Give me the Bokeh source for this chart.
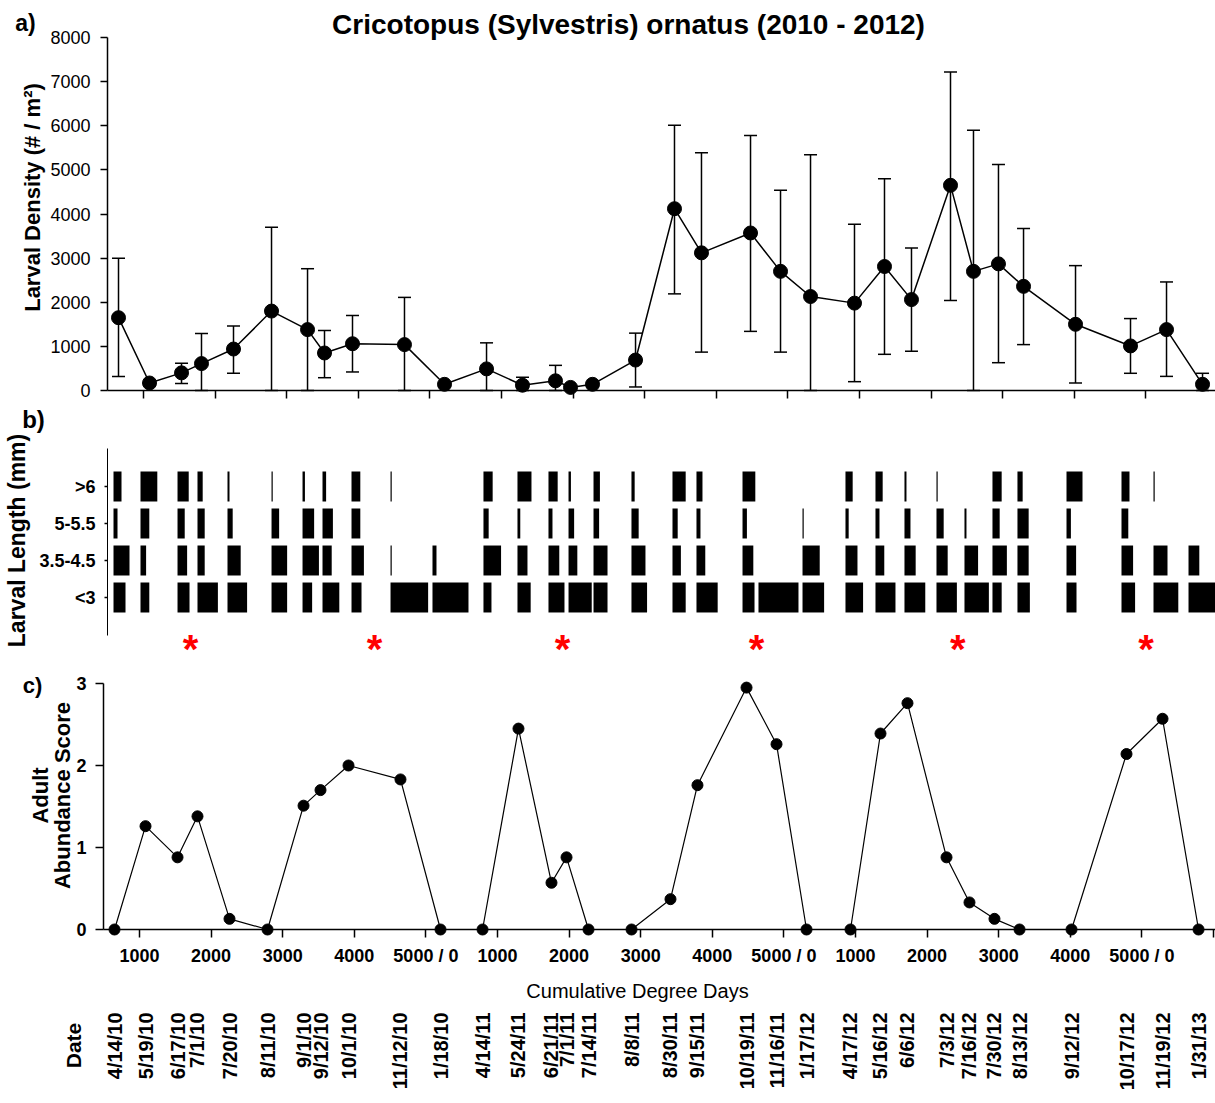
import math
from bokeh.plotting import figure
from bokeh.layouts import column
from bokeh.models import ColumnDataSource, Range1d, FixedTicker, Whisker, TeeHead
from bokeh.core.properties import value
from bokeh.embed import file_html
from bokeh.resources import INLINE

# ---------------- data ----------------
title_text = "Cricotopus (Sylvestris) ornatus (2010 - 2012)"

sample_dates = ["4/14/10", "5/19/10", "6/17/10", "7/1/10", "7/20/10", "8/11/10", "9/1/10",
                "9/12/10", "10/1/10", "11/12/10", "1/18/10", "4/14/11", "5/24/11", "6/21/11",
                "7/1/11", "7/14/11", "8/8/11", "8/30/11", "9/15/11", "10/19/11", "11/16/11",
                "1/17/12", "4/17/12", "5/16/12", "6/6/12", "7/3/12", "7/16/12", "7/30/12",
                "8/13/12", "9/12/12", "10/17/12", "11/19/12", "1/31/13"]

# position on the running cumulative-degree-day axis (5000 per season)
sample_cdd = [651, 1084, 1531, 1810, 2257, 2788, 3291, 3528, 3919, 4645, 5204,
              5791, 6293, 6754, 6964, 7271, 7872, 8416, 8793, 9478, 9897, 10316,
              10930, 11349, 11726, 12271, 12592, 12941, 13291, 14017, 14785, 15288, 15791]

larval_density = [1650, 170, 400, 610, 940, 1800, 1380, 850, 1060, 1040, 140,
                  490, 120, 220, 70, 140, 690, 4120, 3120, 3570, 2700, 2130,
                  1980, 2810, 2060, 4650, 2700, 2870, 2360, 1500, 1010, 1380, 140]
density_upper = [3000, 170, 620, 1290, 1460, 3700, 2760, 1360, 1700, 2110, 140,
                 1080, 300, 570, 70, 140, 1300, 6010, 5390, 5780, 4540, 5340,
                 3770, 4800, 3230, 7220, 5900, 5120, 3670, 2830, 1630, 2460, 390]
density_lower = [320, 170, 160, 0, 390, 0, 0, 290, 420, 0, 140,
                 0, 0, 0, 70, 140, 80, 2190, 870, 1340, 870, 0,
                 200, 820, 890, 2040, 0, 630, 1040, 170, 390, 320, 0]

adult_score = [0, 1.26, 0.88, 1.38, 0.13, 0, 1.51, 1.70, 2.0, 1.83, 0,
               0, 2.45, 0.57, 0.88, 0, 0, 0.37, 1.76, 2.95, 2.26, 0,
               0, 2.39, 2.76, 0.88, 0.33, 0.13, 0, 0, 2.14, 2.57, 0]

size_classes = ["<3", "3.5-4.5", "5-5.5", ">6"]
# start of each larval-length column on the degree-day axis
length_col_cdd = [637, 1014, 1531, 1810, 2229, 2844, 3277, 3556, 3961, 4506, 5092,
                  5804, 6279, 6712, 6992, 7341, 7871, 8444, 8779, 9422, 9645, 10260,
                  10860, 11279, 11684, 12131, 12522, 12913, 13262, 13947, 14715, 15162, 15651]
# percent of larvae in each size class
pct_lt3 = [30, 22, 30, 51, 49, 39, 24, 42, 25, 94, 90, 20, 33, 40, 58, 35, 39, 33, 53, 30, 100,
           54, 44, 50, 52, 51, 61, 23, 31, 25, 34, 62, 73]
pct_35_45 = [40, 14, 24, 18, 33, 39, 41, 23, 31, 3, 10, 44, 25, 27, 22, 35, 35, 21, 22, 27, 0,
             43, 30, 22, 28, 28, 34, 36, 28, 24, 29, 35, 27]
pct_5_55 = [10, 22, 18, 18, 13, 19, 29, 26, 22, 0, 0, 13, 7, 10, 14, 14, 18, 13, 10, 11, 0,
            3, 8, 10, 15, 18, 5, 18, 28, 11, 17, 0, 0]
pct_gt6 = [20, 42, 28, 13, 5, 3, 6, 9, 22, 3, 0, 23, 35, 23, 6, 16, 8, 33, 15, 32, 0,
           0, 18, 18, 5, 3, 0, 23, 13, 40, 20, 3, 0]

peak_cdd = [1712, 4282, 6907, 9617, 12430, 15057]

cdd_ticks = [1000, 2000, 3000, 4000, 5000, 6000, 7000, 8000, 9000, 10000,
             11000, 12000, 13000, 14000, 15000, 16000]
cdd_tick_labels = ["1000", "2000", "3000", "4000", "5000 / 0", "1000", "2000", "3000",
                   "4000", "5000 / 0", "1000", "2000", "3000", "4000", "5000 / 0", ""]
density_ticks = [0, 1000, 2000, 3000, 4000, 5000, 6000, 7000, 8000]
score_ticks = [0, 1, 2, 3]

# ---------------- layout constants (page pixels) ----------------
FONT = "Liberation Sans"
W = 1215
PX_PER_KDD = 71.6      # pixels per 1000 degree days
ZERO_PX = 67.4         # page x of 0 degree days (panels b, c, dates)
ZERO_PX_A = 71.4       # panel a sits 4 px further right
DD_PER_PCT = 40.0 / PX_PER_KDD * 1000 / 100   # 100 % = 40 px wide


def x_range_for(zero):
    return Range1d((0 - zero) / PX_PER_KDD * 1000, (W - zero) / PX_PER_KDD * 1000)


def to_dd(px, zero=ZERO_PX):
    return (px - zero) / PX_PER_KDD * 1000


def geo(top, h, py_a, v_a, py_b, v_b):
    k = (v_b - v_a) / (py_b - py_a)
    return dict(top=top, h=h, k=k, py_a=py_a, v_a=v_a,
                y0=v_a + (top + h - py_a) * k, y1=v_a + (top - py_a) * k)


def to_y(g, py):
    return g["v_a"] + (py - g["py_a"]) * g["k"]


gA = geo(0, 400, 390, 0, 37, 8000)
gB = geo(400, 272, 597, 1, 486, 4)
gC = geo(672, 333, 929, 0, 683, 3)
gD = geo(1005, 95, 1005, 1005, 1100, 1100)

xrA = x_range_for(ZERO_PX_A)
xr = x_range_for(ZERO_PX)


def make_fig(g, x_range, **kw):
    p = figure(width=W, height=g["h"], x_range=x_range, y_range=Range1d(g["y0"], g["y1"]),
               output_backend="svg", toolbar_location=None, title=None,
               min_border=0, min_border_left=0, min_border_right=0,
               min_border_top=0, min_border_bottom=0, **kw)
    p.outline_line_color = None
    p.grid.visible = False
    p.background_fill_color = "white"
    p.border_fill_color = "white"
    return p


def add_text(p, g, text, px, py, size, zero=ZERO_PX, angle=0.0, style="bold"):
    p.text(x=[to_dd(px, zero)], y=[to_y(g, py)], text=[text], angle=angle,
           text_font=value(FONT), text_font_size=size, text_font_style=style,
           text_color="black", text_align="center", text_baseline="middle")


def style_axis(ax, tick_out, standoff, size, fstyle):
    ax.axis_line_color = "black"
    ax.axis_line_width = 1.5
    ax.major_tick_line_color = "black"
    ax.major_tick_line_width = 1.5
    ax.major_tick_out = tick_out
    ax.major_tick_in = 0
    ax.minor_tick_line_color = None
    ax.major_label_standoff = standoff
    ax.major_label_text_font = FONT
    ax.major_label_text_font_size = size
    ax.major_label_text_font_style = fstyle
    ax.major_label_text_color = "black"


# ---------------- panel a ----------------
pA = make_fig(gA, xrA)
srcA = ColumnDataSource(dict(x=sample_cdd, y=larval_density,
                             upper=density_upper, lower=density_lower))
pA.line("x", "y", source=srcA, line_color="black", line_width=1.5)
pA.add_layout(Whisker(source=srcA, base="x", upper="upper", lower="lower",
                      line_color="black", line_width=1.5,
                      upper_head=TeeHead(size=13, line_width=1.5, line_color="black"),
                      lower_head=TeeHead(size=13, line_width=1.5, line_color="black")))
pA.scatter("x", "y", source=srcA, marker="circle", size=14,
           fill_color="black", line_color="black")
pA.yaxis.ticker = FixedTicker(ticks=density_ticks)
pA.yaxis.fixed_location = to_dd(107, ZERO_PX_A)
pA.yaxis.bounds = (0, 8000)
style_axis(pA.yaxis[0], 7, 10, "18px", "normal")
pA.xaxis.ticker = FixedTicker(ticks=[t for t in cdd_ticks if t <= 15000])
pA.xaxis.fixed_location = 0
pA.xaxis.bounds = (to_dd(107, ZERO_PX_A), to_dd(W, ZERO_PX_A))
style_axis(pA.xaxis[0], 8, 2, "18px", "normal")
pA.xaxis.major_label_text_color = None
add_text(pA, gA, title_text, 628, 24, "28px", zero=ZERO_PX_A)
add_text(pA, gA, "a)", 25, 22, "23px", zero=ZERO_PX_A)
add_text(pA, gA, "Larval Density (# / m\u00b2)", 32, 197, "22px", zero=ZERO_PX_A,
         angle=math.pi / 2)

# ---------------- panel b ----------------
pB = make_fig(gB, xr, x_axis_location=None)
bars = dict(y=[], left=[], right=[])
for k, pcts in enumerate([pct_lt3, pct_35_45, pct_5_55, pct_gt6]):
    for s, v in zip(length_col_cdd, pcts):
        if v > 0:
            bars["y"].append(k + 1)
            bars["left"].append(s)
            bars["right"].append(s + v * DD_PER_PCT)
pB.hbar(y="y", left="left", right="right", height=0.81, source=ColumnDataSource(bars),
        fill_color="black", line_color=None)
pB.yaxis.ticker = FixedTicker(ticks=[1, 2, 3, 4])
pB.yaxis.major_label_overrides = {i + 1: c for i, c in enumerate(size_classes)}
pB.yaxis.fixed_location = to_dd(107)
pB.yaxis.bounds = (to_y(gB, 635), to_y(gB, 448))
style_axis(pB.yaxis[0], 3, 9, "18px", "bold")
pB.yaxis.axis_line_width = 1
pB.text(x=peak_cdd, y=[to_y(gB, 648)] * len(peak_cdd), text=["*"] * len(peak_cdd),
        text_font=value(FONT), text_font_size="40px", text_font_style="bold",
        text_color="red", text_align="center", text_baseline="middle")
add_text(pB, gB, "b)", 33, 419, "24px")
add_text(pB, gB, "Larval Length (mm)", 16.5, 540, "23px", angle=math.pi / 2)

# ---------------- panel c ----------------
pC = make_fig(gC, xr)
srcC = ColumnDataSource(dict(x=sample_cdd, y=adult_score))
pC.line("x", "y", source=srcC, line_color="black", line_width=1.2)
pC.scatter("x", "y", source=srcC, marker="circle", size=11,
           fill_color="black", line_color="black")
pC.yaxis.ticker = FixedTicker(ticks=score_ticks)
pC.yaxis.fixed_location = to_dd(103)
pC.yaxis.bounds = (0, 3)
style_axis(pC.yaxis[0], 8, 9, "18px", "bold")
pC.xaxis.ticker = FixedTicker(ticks=cdd_ticks)
pC.xaxis.major_label_overrides = {t: l for t, l in zip(cdd_ticks, cdd_tick_labels)}
pC.xaxis.fixed_location = 0
pC.xaxis.bounds = (to_dd(103), to_dd(W))
style_axis(pC.xaxis[0], 8, 8, "18px", "bold")
add_text(pC, gC, "c)", 32, 685, "22px")
add_text(pC, gC, "Adult", 40, 795, "22px", angle=math.pi / 2)
add_text(pC, gC, "Abundance Score", 62, 795, "22px", angle=math.pi / 2)
add_text(pC, gC, "Cumulative Degree Days", 637, 990, "20px", style="normal")

# ---------------- date row ----------------
pD = make_fig(gD, xr, x_axis_location=None, y_axis_location=None)
pD.text(x=sample_cdd, y=[to_y(gD, 1012)] * len(sample_cdd), text=sample_dates,
        angle=math.pi / 2, text_font=value(FONT), text_font_size="20px",
        text_font_style="bold", text_color="black", text_align="right",
        text_baseline="middle")
add_text(pD, gD, "Date", 73, 1045, "21px", angle=math.pi / 2)

layout = column(pA, pB, pC, pD, spacing=0)
open("out.html", "w").write(file_html(layout, INLINE))
